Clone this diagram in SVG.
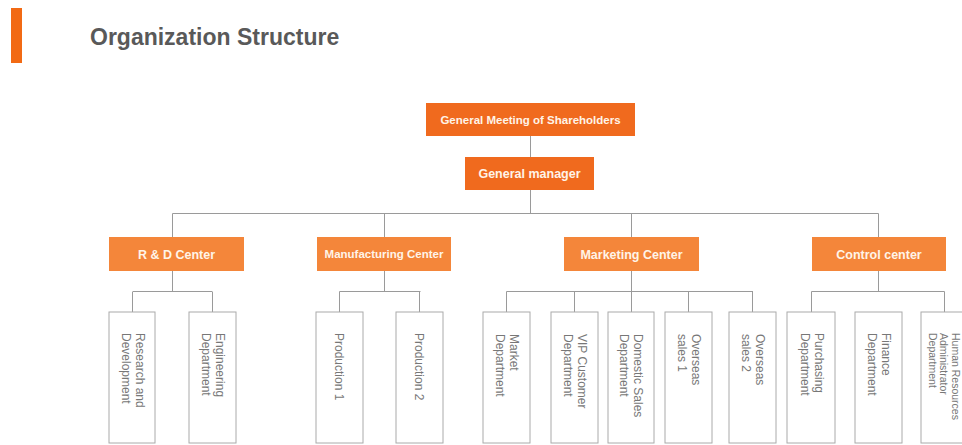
<svg xmlns="http://www.w3.org/2000/svg" width="962" height="445" viewBox="0 0 962 445">
  <style>
    .title { font-family: "Liberation Sans", Arial, sans-serif; font-weight: bold; font-size: 23px; fill: #595959; }
    .top { fill: #F06A1E; }
    .mid { fill: #F4863A; }
    .hdr { font-family: "Liberation Sans", Arial, sans-serif; font-weight: bold; font-size: 12.5px; fill: #FFF4E8; text-anchor: middle; }
    .leaf { fill: #fff; stroke: #aaa; stroke-width: 1; }
    .lt { font-family: "Liberation Sans", Arial, sans-serif; font-size: 12px; fill: #777; }
    .conn { stroke: #9a9a9a; stroke-width: 1; fill: none; }
  </style>
  <rect width="962" height="445" fill="#fff"/>
  <rect x="11" y="8" width="11" height="55" fill="#F26A14"/>
  <text class="title" x="90" y="45">Organization Structure</text>

  <g id="connectors">
    <path class="conn" d="M530.5 136 V157 M530.5 190 V213.5 M172.5 213.5 H878.5"/>
    <path class="conn" d="M172.5 213.5 V237 M384.5 213.5 V237 M631.5 213.5 V237 M878.5 213.5 V237"/>
    <path class="conn" d="M172.5 271 V291.5 M133 291.5 H212 M132.5 291.5 V312 M212.5 291.5 V312"/>
    <path class="conn" d="M384.5 271 V291.5 M339.5 291.5 H420.5 M339.5 291.5 V312 M419.5 291.5 V312"/>
    <path class="conn" d="M631.5 271 V291.5 M506.5 291.5 H753 M506.5 291.5 V312 M574.5 291.5 V312 M631.5 291.5 V312 M688.5 291.5 V312 M752.5 291.5 V312"/>
    <path class="conn" d="M878.5 271 V291.5 M811.5 291.5 H944.5 M811.5 291.5 V312 M944.5 291.5 V312"/>
  </g>

  <g id="shareholders">
    <rect class="top" x="426" y="103" width="209" height="33"/>
    <text class="hdr" x="530.5" y="123.5" style="font-size:11.5px">General Meeting of Shareholders</text>
  </g>
  <g id="general-manager">
    <rect class="top" x="465" y="157" width="129" height="33"/>
    <text class="hdr" x="529.5" y="178">General manager</text>
  </g>

  <g id="rd-center">
    <rect class="mid" x="109" y="237" width="135" height="34"/>
    <text class="hdr" x="176.5" y="258.5">R &amp; D Center</text>
  </g>
  <g id="manufacturing-center">
    <rect class="mid" x="317" y="237" width="134" height="34"/>
    <text class="hdr" x="384" y="258" style="font-size:11.5px">Manufacturing Center</text>
  </g>
  <g id="marketing-center">
    <rect class="mid" x="564" y="237" width="135" height="34"/>
    <text class="hdr" x="631.5" y="258.5">Marketing Center</text>
  </g>
  <g id="control-center">
    <rect class="mid" x="812" y="237" width="134" height="34"/>
    <text class="hdr" x="879" y="258.5">Control center</text>
  </g>

  <g id="research-development">
    <rect class="leaf" x="109" y="312" width="46" height="131"/>
    <text class="lt" transform="translate(136,333) rotate(90)"><tspan x="0" y="0">Research and</tspan><tspan x="0" dy="14.5">Development</tspan></text>
  </g>
  <g id="engineering">
    <rect class="leaf" x="189" y="312" width="47" height="131"/>
    <text class="lt" transform="translate(216,333) rotate(90)"><tspan x="0" y="0">Engineering</tspan><tspan x="0" dy="14.5">Department</tspan></text>
  </g>
  <g id="production-1">
    <rect class="leaf" x="316" y="312" width="47" height="131"/>
    <text class="lt" transform="translate(335,333) rotate(90)">Production 1</text>
  </g>
  <g id="production-2">
    <rect class="leaf" x="396" y="312" width="47" height="131"/>
    <text class="lt" transform="translate(415,333) rotate(90)">Production 2</text>
  </g>
  <g id="market-department">
    <rect class="leaf" x="483" y="312" width="47" height="131"/>
    <text class="lt" transform="translate(510,334) rotate(90)"><tspan x="0" y="0">Market</tspan><tspan x="0" dy="14.5">Department</tspan></text>
  </g>
  <g id="vip-customer">
    <rect class="leaf" x="551" y="312" width="47" height="131"/>
    <text class="lt" transform="translate(578,334) rotate(90)"><tspan x="0" y="0">VIP Customer</tspan><tspan x="0" dy="14.5">Department</tspan></text>
  </g>
  <g id="domestic-sales">
    <rect class="leaf" x="608" y="312" width="46" height="131"/>
    <text class="lt" transform="translate(634,334) rotate(90)"><tspan x="0" y="0">Domestic Sales</tspan><tspan x="0" dy="14.5">Department</tspan></text>
  </g>
  <g id="overseas-1">
    <rect class="leaf" x="665" y="312" width="47" height="131"/>
    <text class="lt" transform="translate(692,334) rotate(90)"><tspan x="0" y="0">Overseas</tspan><tspan x="0" dy="14.5">sales 1</tspan></text>
  </g>
  <g id="overseas-2">
    <rect class="leaf" x="729" y="312" width="47" height="131"/>
    <text class="lt" transform="translate(756,334) rotate(90)"><tspan x="0" y="0">Overseas</tspan><tspan x="0" dy="14.5">sales 2</tspan></text>
  </g>
  <g id="purchasing">
    <rect class="leaf" x="787" y="312" width="48" height="131"/>
    <text class="lt" transform="translate(815,333) rotate(90)"><tspan x="0" y="0">Purchasing</tspan><tspan x="0" dy="14.5">Department</tspan></text>
  </g>
  <g id="finance">
    <rect class="leaf" x="855" y="312" width="47" height="131"/>
    <text class="lt" transform="translate(882,333) rotate(90)"><tspan x="0" y="0">Finance</tspan><tspan x="0" dy="14.5">Department</tspan></text>
  </g>
  <g id="human-resources">
    <rect class="leaf" x="921" y="312" width="47" height="131"/>
    <text class="lt" transform="translate(951.5,333) rotate(90)" style="font-size:10.5px"><tspan x="0" y="0">Human Resources</tspan><tspan x="0" dy="11.5">Administrator</tspan><tspan x="0" dy="11.5">Department</tspan></text>
  </g>
</svg>
